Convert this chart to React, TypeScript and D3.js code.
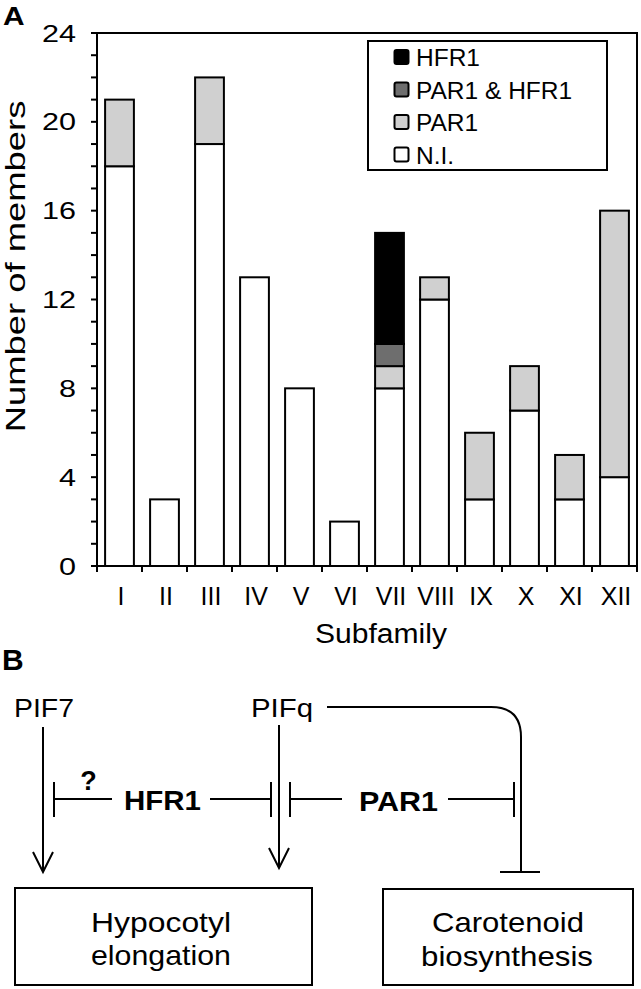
import React from "react";
import * as d3 from "d3";

// ---- Data ----
const subfamilies = ["I", "II", "III", "IV", "V", "VI", "VII", "VIII", "IX", "X", "XI", "XII"];
const niValues = [18, 3, 19, 13, 8, 2, 8, 12, 3, 7, 3, 4];
const par1Values = [3, 0, 3, 0, 0, 0, 1, 1, 3, 2, 2, 12];
const par1Hfr1Values = [0, 0, 0, 0, 0, 0, 1, 0, 0, 0, 0, 0];
const hfr1Values = [0, 0, 0, 0, 0, 0, 5, 0, 0, 0, 0, 0];
const seriesKeys = ["N.I.", "PAR1", "PAR1 & HFR1", "HFR1"];
const legendOrder = ["HFR1", "PAR1 & HFR1", "PAR1", "N.I."];
const yTickLabels = [0, 4, 8, 12, 16, 20, 24];
const yMax = 24;

const colors: Record<string, string> = {
  "N.I.": "#ffffff",
  PAR1: "#d0d0d0",
  "PAR1 & HFR1": "#6e6e6e",
  HFR1: "#000000",
};

const FONT = "'Liberation Sans', Arial, Helvetica, sans-serif";

export default function App() {
  const W = 641, H = 989;
  const left = 97, right = 637, top = 33, bottom = 566;

  const rows = subfamilies.map((s, i) => ({
    name: s,
    "N.I.": niValues[i],
    PAR1: par1Values[i],
    "PAR1 & HFR1": par1Hfr1Values[i],
    HFR1: hfr1Values[i],
  }));

  const x = d3.scaleBand<string>().domain(subfamilies).range([left, right]).paddingInner(0.36).paddingOuter(0.18);
  const y = d3.scaleLinear().domain([0, yMax]).range([bottom, top]);
  const stack = d3.stack<any>().keys(seriesKeys);
  const stacked = stack(rows);
  const minorTicks = d3.range(0, yMax + 1, 1);
  const step = x.step();

  const sw = 2;

  return (
    <svg width={W} height={H} style={{ position: "absolute", left: 0, top: 0, background: "#fff" }} fontFamily={FONT}>
      <rect x={0} y={0} width={W} height={H} fill="#fff" />
      {/* Panel label A */}
      <text transform="translate(3,25) scale(1.15,1)" fontSize={26} fontWeight="bold">A</text>

      {/* bars */}
      {stacked.map((layer) =>
        layer.map((d, i) => {
          const h = y(d[0]) - y(d[1]);
          if (h <= 0) return null;
          return (
            <rect
              key={layer.key + i}
              x={x(subfamilies[i])}
              y={y(d[1])}
              width={x.bandwidth()}
              height={h}
              fill={colors[layer.key]}
              stroke="#000"
              strokeWidth={sw}
            />
          );
        })
      )}

      {/* frame */}
      <rect x={left} y={top} width={right - left} height={bottom - top} fill="none" stroke="#000" strokeWidth={sw} />

      {/* y ticks */}
      {minorTicks.map((t) => (
        <line key={"yt" + t} x1={left - 6} x2={left} y1={y(t)} y2={y(t)} stroke="#000" strokeWidth={sw} />
      ))}
      {yTickLabels.map((t) => (
        <text
          key={"yl" + t}
          transform={`translate(76,${y(t) + 8.5}) scale(1.33,1)`}
          textAnchor="end"
          fontSize={23}
        >
          {t}
        </text>
      ))}
      <text transform={`translate(25,266.5) rotate(-90) scale(1.3,1)`} textAnchor="middle" fontSize={28}>
        Number of members
      </text>

      {/* x ticks */}
      {d3.range(0, subfamilies.length + 1).map((k) => (
        <line key={"xt" + k} x1={left + k * step} x2={left + k * step} y1={bottom} y2={bottom + 6} stroke="#000" strokeWidth={sw} />
      ))}
      {subfamilies.map((s) => (
        <text key={"xl" + s} x={(x(s) as number) + x.bandwidth() / 2 + 1.5} y={605} textAnchor="middle" fontSize={25}>
          {s}
        </text>
      ))}
      <text x={381} y={643} textAnchor="middle" fontSize={27} textLength={132} lengthAdjust="spacingAndGlyphs">
        Subfamily
      </text>

      {/* legend */}
      <rect x={368} y={41} width={239} height={129} fill="#fff" stroke="#000" strokeWidth={sw} />
      {legendOrder.map((k, i) => (
        <g key={"lg" + k} transform={`translate(0,${i * 32.5})`}>
          <rect x={394.5} y={50} width={14} height={14} rx={2} fill={colors[k]} stroke="#000" strokeWidth={sw} />
          <text x={416} y={66} fontSize={24.5}>{k}</text>
        </g>
      ))}

      {/* Panel B */}
      <text x={2} y={670} fontSize={30} fontWeight="bold">B</text>
      <g stroke="#000" strokeWidth={2} fill="none">
        {/* PIF7 arrow */}
        <line x1={43} y1={727} x2={43} y2={872} />
        <polyline points="33,852 43,872 53,852" />
        {/* PIFq arrow */}
        <line x1={279} y1={725} x2={279} y2={868} />
        <polyline points="269,848 279,868 289,848" />
        {/* HFR1 inhibition */}
        <line x1={54} y1={782} x2={54} y2={817} />
        <line x1={54} y1={799} x2={112} y2={799} />
        <line x1={210} y1={799} x2={271} y2={799} />
        <line x1={271} y1={782} x2={271} y2={817} />
        {/* PAR1 inhibition */}
        <line x1={290} y1={782} x2={290} y2={817} />
        <line x1={290} y1={799} x2={342} y2={799} />
        <line x1={448} y1={799} x2={514} y2={799} />
        <line x1={514} y1={782} x2={514} y2={817} />
        {/* PIFq -| carotenoid */}
        <path d="M327,707 L491,707 Q521,707 521,737 L521,872" />
        <line x1={500} y1={872} x2={540} y2={872} />
        {/* boxes */}
        <rect x={15} y={888} width={297} height={97} />
        <rect x={383} y={889} width={250} height={96} />
      </g>
      <text x={14} y={717} fontSize={26} textLength={60} lengthAdjust="spacingAndGlyphs">PIF7</text>
      <text x={251} y={717} fontSize={26} textLength={62} lengthAdjust="spacingAndGlyphs">PIFq</text>
      <text x={88.5} y={790} fontSize={27} fontWeight="bold" textAnchor="middle">?</text>
      <text x={124} y={810} fontSize={28} fontWeight="bold" textLength={77} lengthAdjust="spacingAndGlyphs">HFR1</text>
      <text x={359} y={811} fontSize={28} fontWeight="bold" textLength={79} lengthAdjust="spacingAndGlyphs">PAR1</text>
      <text x={161} y={932} fontSize={28} textAnchor="middle" textLength={140} lengthAdjust="spacingAndGlyphs">Hypocotyl</text>
      <text x={161} y={965} fontSize={28} textAnchor="middle" textLength={140} lengthAdjust="spacingAndGlyphs">elongation</text>
      <text x={508} y={932} fontSize={28} textAnchor="middle" textLength={152} lengthAdjust="spacingAndGlyphs">Carotenoid</text>
      <text x={507} y={966} fontSize={28} textAnchor="middle" textLength={172} lengthAdjust="spacingAndGlyphs">biosynthesis</text>
    </svg>
  );
}
